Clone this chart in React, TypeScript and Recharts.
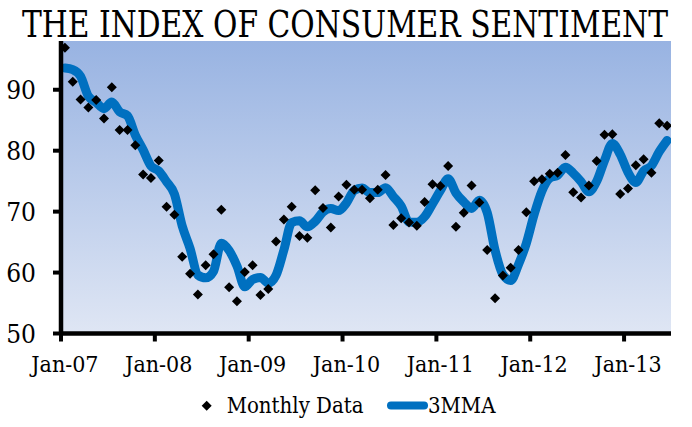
import React from 'react';
import { ComposedChart, Line, XAxis, YAxis, CartesianGrid } from 'recharts';

const months = [
  'Jan-07','Feb-07','Mar-07','Apr-07','May-07','Jun-07','Jul-07','Aug-07','Sep-07','Oct-07','Nov-07','Dec-07',
  'Jan-08','Feb-08','Mar-08','Apr-08','May-08','Jun-08','Jul-08','Aug-08','Sep-08','Oct-08','Nov-08','Dec-08',
  'Jan-09','Feb-09','Mar-09','Apr-09','May-09','Jun-09','Jul-09','Aug-09','Sep-09','Oct-09','Nov-09','Dec-09',
  'Jan-10','Feb-10','Mar-10','Apr-10','May-10','Jun-10','Jul-10','Aug-10','Sep-10','Oct-10','Nov-10','Dec-10',
  'Jan-11','Feb-11','Mar-11','Apr-11','May-11','Jun-11','Jul-11','Aug-11','Sep-11','Oct-11','Nov-11','Dec-11',
  'Jan-12','Feb-12','Mar-12','Apr-12','May-12','Jun-12','Jul-12','Aug-12','Sep-12','Oct-12','Nov-12','Dec-12',
  'Jan-13','Feb-13','Mar-13','Apr-13','May-13','Jun-13',
];

const monthlyData = [
  96.9, 91.3, 88.4, 87.1, 88.3, 85.3, 90.4, 83.4, 83.4, 80.9, 76.1, 75.5,
  78.4, 70.8, 69.5, 62.6, 59.8, 56.4, 61.2, 63.0, 70.3, 57.6, 55.3, 60.1,
  61.2, 56.3, 57.3, 65.1, 68.7, 70.8, 66.0, 65.7, 73.5, 70.6, 67.4, 72.5,
  74.4, 73.6, 73.6, 72.2, 73.6, 76.0, 67.8, 68.9, 68.2, 67.7, 71.6, 74.5,
  74.2, 77.5, 67.5, 69.8, 74.3, 71.5, 63.7, 55.8, 59.5, 60.8, 63.7, 69.9,
  75.0, 75.3, 76.2, 76.4, 79.3, 73.2, 72.3, 74.3, 78.3, 82.6, 82.7, 72.9,
  73.8, 77.6, 78.6, 76.4, 84.5, 84.1,
];

const mma3 = [
  93.57, 93.30, 92.20, 88.93, 87.93, 86.90, 88.00, 86.37, 85.73, 82.57, 80.13, 77.50,
  76.67, 74.90, 72.90, 67.63, 63.97, 59.60, 59.13, 60.20, 64.83, 63.63, 61.07, 57.67,
  58.87, 59.20, 58.27, 59.57, 63.70, 68.20, 68.50, 67.50, 68.40, 69.93, 70.50, 70.17,
  71.43, 73.50, 73.87, 73.13, 73.13, 73.93, 72.47, 70.90, 68.30, 68.27, 69.17, 71.27,
  73.43, 75.40, 73.07, 71.60, 70.53, 71.87, 69.83, 63.67, 59.67, 58.70, 61.33, 64.80,
  69.53, 73.40, 75.50, 75.97, 77.30, 76.30, 74.93, 73.27, 74.97, 78.40, 81.20, 79.40,
  76.47, 74.77, 76.67, 77.53, 79.83, 81.67,
];

const yTicks = [50, 60, 70, 80, 90];
const xTickLabels = ['Jan-07', 'Jan-08', 'Jan-09', 'Jan-10', 'Jan-11', 'Jan-12', 'Jan-13'];
const xTickBoundaries = [-0.5, 11.5, 23.5, 35.5, 47.5, 59.5, 71.5];

const data = months.map((m, i) => ({ i, month: m, monthly: monthlyData[i], mma: mma3[i] }));

const W = 692;
const H = 427;
const MARGIN = { top: 41, right: 21, left: 0, bottom: 33.5 };
const Y_WIDTH = 61;
const PLOT_W = W - MARGIN.right - Y_WIDTH;
const HALF_CAT = PLOT_W / months.length / 2;
const FONT = '"DejaVu Serif Condensed", "DejaVu Serif", serif';
const BLUE = '#0070C0';

const Diamond = (props: any) => {
  const { cx, cy } = props;
  if (cx == null || cy == null) return null;
  const r = 5;
  return (
    <polygon
      points={`${cx},${cy - r} ${cx + r},${cy} ${cx},${cy + r} ${cx - r},${cy}`}
      fill="#000"
    />
  );
};

const XTick = (props: any) => {
  const { x, y, index } = props;
  return (
    <text
      x={x + HALF_CAT}
      y={y}
      dy="0.71em"
      textAnchor="middle"
      fontFamily={FONT}
      fontSize={23}
      fill="#000"
    >
      {xTickLabels[index]}
    </text>
  );
};

export default function App() {
  return (
    <div style={{ position: 'absolute', left: 0, top: 0, width: W, height: H, background: '#fff' }}>
      <ComposedChart width={W} height={H} data={data} margin={MARGIN}>
        <defs>
          <linearGradient id="plotBg" x1="0" y1="0" x2="0" y2="1">
            <stop offset="0%" stopColor="#98B3E2" />
            <stop offset="100%" stopColor="#DFE6F4" />
          </linearGradient>
        </defs>
        <CartesianGrid fill="url(#plotBg)" stroke="none" horizontal={false} vertical={false} />
        <XAxis
          dataKey="i"
          type="number"
          domain={[-0.5, 77.5]}
          ticks={xTickBoundaries}
          interval={0}
          allowDataOverflow
          height={60}
          tickSize={8}
          tickMargin={14}
          axisLine={{ stroke: '#000', strokeWidth: 4.5 }}
          tickLine={{ stroke: '#000', strokeWidth: 4 }}
          tick={<XTick />}
        />
        <YAxis
          type="number"
          domain={[50, 98]}
          ticks={yTicks}
          interval={0}
          allowDataOverflow
          width={Y_WIDTH}
          tickSize={8}
          tickMargin={17}
          axisLine={{ stroke: '#000', strokeWidth: 4.5 }}
          tickLine={{ stroke: '#000', strokeWidth: 4 }}
          tick={{ fontFamily: FONT, fontSize: 26, fill: '#000' }}
        />
        <Line
          dataKey="mma"
          type="monotone"
          stroke={BLUE}
          strokeWidth={9}
          strokeLinecap="round"
          strokeLinejoin="round"
          dot={false}
          activeDot={false}
          isAnimationActive={false}
        />
        <Line
          dataKey="monthly"
          stroke="none"
          dot={(p: any) => <Diamond key={`d-${p.index}`} {...p} />}
          activeDot={false}
          isAnimationActive={false}
        />
      </ComposedChart>
      <svg
        width={W}
        height={H}
        style={{ position: 'absolute', left: 0, top: 0, pointerEvents: 'none' }}
      >
        <g transform="translate(22,37) scale(1,1.08)">
          <text
            x={0}
            y={0}
            fontFamily={FONT}
            fontSize={34}
            textLength={646}
            lengthAdjust="spacingAndGlyphs"
            fill="#000"
          >
            THE INDEX OF CONSUMER SENTIMENT
          </text>
        </g>
        <polygon points="206.7,400.7 211.7,405.7 206.7,410.7 201.7,405.7" fill="#000" />
        <text x={226.7} y={412.5} fontFamily={FONT} fontSize={22} fill="#000">
          Monthly Data
        </text>
        <line x1={391} y1={405.5} x2={424} y2={405.5} stroke={BLUE} strokeWidth={8} strokeLinecap="round" />
        <text x={428} y={412.5} fontFamily={FONT} fontSize={22} fill="#000">
          3MMA
        </text>
      </svg>
    </div>
  );
}
